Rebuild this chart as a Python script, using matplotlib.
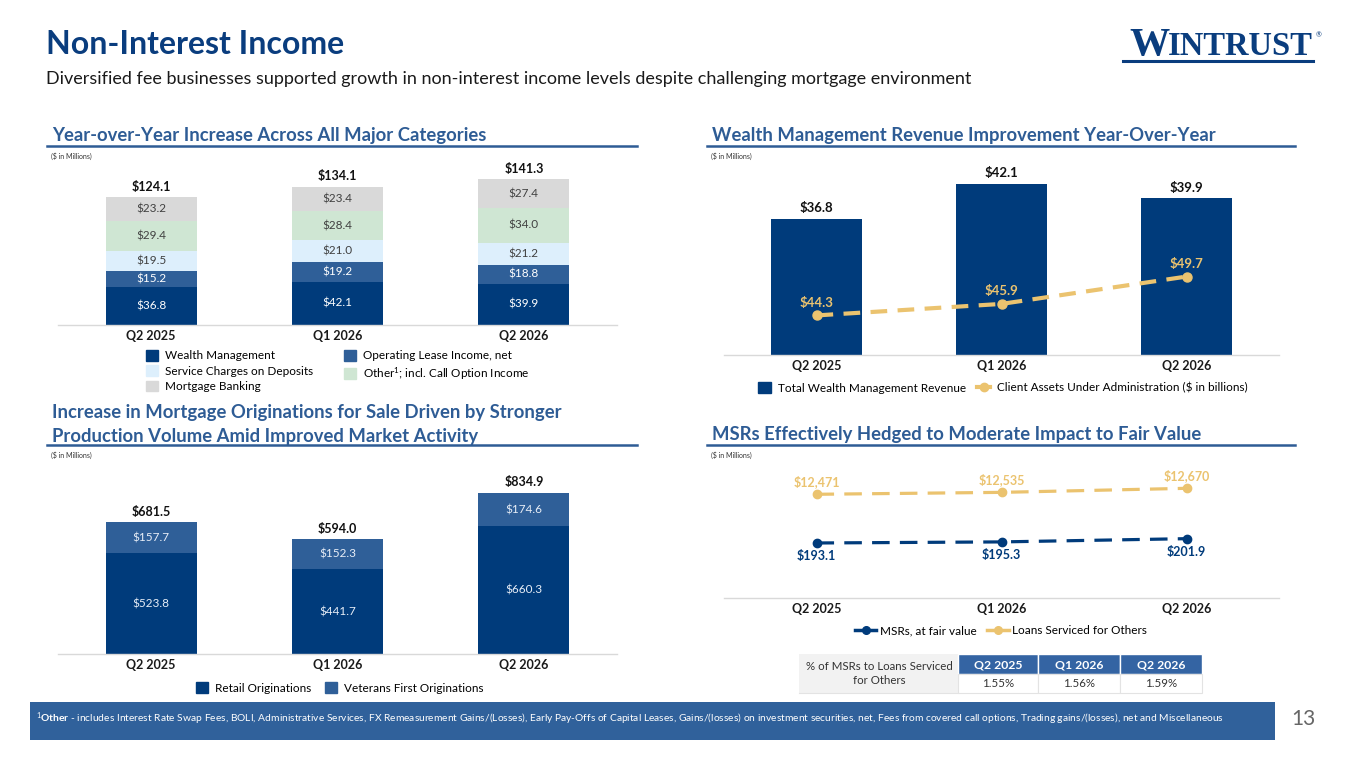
import matplotlib
matplotlib.use('Agg')
import matplotlib.pyplot as plt
from matplotlib.patches import Patch, Rectangle
from matplotlib.lines import Line2D
import numpy as np

# ---------------- data ----------------
quarters = ['Q2 2025', 'Q1 2026', 'Q2 2026']

nii_wealth = [36.8, 42.1, 39.9]
nii_lease = [15.2, 19.2, 18.8]
nii_service = [19.5, 21.0, 21.2]
nii_other = [29.4, 28.4, 34.0]
nii_mortgage = [23.2, 23.4, 27.4]
nii_total = [124.1, 134.1, 141.3]

wm_revenue = [36.8, 42.1, 39.9]
client_assets = [44.3, 45.9, 49.7]

orig_retail = [523.8, 441.7, 660.3]
orig_veterans = [157.7, 152.3, 174.6]
orig_total = [681.5, 594.0, 834.9]

msr_fair_value = [193.1, 195.3, 201.9]
loans_serviced = [12471, 12535, 12670]
msr_pct = ['1.55%', '1.56%', '1.59%']

footnote = ("$^{1}$$\\mathbf{Other}$ - includes Interest Rate Swap Fees, BOLI, Administrative Services, "
            "FX Remeasurement Gains/(Losses), Early Pay-Offs of Capital Leases, Gains/(losses) on investment "
            "securities, net, Fees from covered call options, Trading gains/(losses), net and Miscellaneous")

# ---------------- style ----------------
plt.rcParams['font.family'] = ['Lato', 'DejaVu Sans']
plt.rcParams['mathtext.fontset'] = 'custom'
plt.rcParams['mathtext.rm'] = 'Lato'
plt.rcParams['mathtext.bf'] = 'Lato:bold'
plt.rcParams['mathtext.it'] = 'Lato:italic'

NAVY = '#003B7B'
LEASE = '#2F5F98'
SERVICE = '#DDEFFC'
OTHER = '#CFE6D3'
MORT = '#D9D9D9'
GOLD = '#EBC36F'
SECT = '#2E5C95'
TITLE = '#0A3D7E'
FOOT = '#30619B'
DARKTXT = '#404040'

W, H = 1365, 768
fig = plt.figure(figsize=(W / 100, H / 100), dpi=100)


def fx(x):
    return x / W


def fy(y):
    return 1 - y / H


def rect(x0, x1, y0, y1):
    return [x0 / W, 1 - y1 / H, (x1 - x0) / W, (y1 - y0) / H]


def ptext(x, y, s, **kw):
    return fig.text(fx(x), fy(y), s, **kw)


def hline(x0, x1, y, color, lw):
    fig.add_artist(Line2D([fx(x0), fx(x1)], [fy(y), fy(y)], color=color, lw=lw,
                          transform=fig.transFigure))


def style_axes(ax):
    for s in ['top', 'right', 'left']:
        ax.spines[s].set_visible(False)
    ax.spines['bottom'].set_color('#D9D9D9')
    ax.spines['bottom'].set_linewidth(1.0)
    ax.set_yticks([])
    ax.set_xlim(-0.5, 2.5)
    ax.set_xticks(np.arange(len(quarters)))
    ax.set_xticklabels(quarters, fontsize=9, fontweight='bold', color='#1A1A1A')
    ax.tick_params(axis='x', length=0, pad=3.5)
    ax.patch.set_visible(False)


# ---------------- header ----------------
ptext(46, 45, 'Non-Interest Income', fontsize=23, fontweight='bold', color=TITLE, va='center')
ptext(46, 79, 'Diversified fee businesses supported growth in non-interest income levels despite '
      'challenging mortgage environment', fontsize=13, color='#1A1A1A', va='center')

# logo
renderer = fig.canvas.get_renderer()
t_int = ptext(1313, 55, 'INTRUST', family='Liberation Serif', fontweight='bold', fontsize=23.5,
              color=TITLE, ha='right', va='baseline')
bb = t_int.get_window_extent(renderer)
ptext(bb.x0 + 1, 55, 'W', family='Liberation Serif', fontweight='bold', fontsize=29,
      color=TITLE, ha='right', va='baseline')
ptext(1316, 35, '®', fontsize=5, color=TITLE, ha='left', va='center')
hline(1123, 1313, 61, TITLE, 2.2)

# section titles
SECT_FS = 13.3
ptext(52, 141.5, 'Year-over-Year Increase Across All Major Categories', fontsize=SECT_FS,
      fontweight='bold', color=SECT, va='baseline')
hline(47, 637, 145.5, SECT, 1.8)
ptext(712, 141.5, 'Wealth Management Revenue Improvement Year-Over-Year', fontsize=SECT_FS,
      fontweight='bold', color=SECT, va='baseline')
hline(707, 1295, 145.5, SECT, 1.8)
ptext(52, 418, 'Increase in Mortgage Originations for Sale Driven by Stronger', fontsize=SECT_FS,
      fontweight='bold', color=SECT, va='baseline')
ptext(52, 442, 'Production Volume Amid Improved Market Activity', fontsize=SECT_FS,
      fontweight='bold', color=SECT, va='baseline')
hline(47, 637, 444.5, SECT, 1.8)
ptext(712, 440, 'MSRs Effectively Hedged to Moderate Impact to Fair Value', fontsize=SECT_FS,
      fontweight='bold', color=SECT, va='baseline')
hline(707, 1295, 445, SECT, 1.8)

for (xx, yy) in [(51, 156), (711, 156), (51, 455), (711, 455)]:
    ptext(xx, yy, '($ in Millions)', fontsize=5, color='#333333', va='center')

x = np.arange(len(quarters))

# ---------------- top-left: stacked bars ----------------
ax1 = fig.add_axes(rect(58, 617, 160, 325))
style_axes(ax1)
ax1.set_ylim(0, 160.2)
stack = [
    (nii_wealth, NAVY, 'Wealth Management', 'white'),
    (nii_lease, LEASE, 'Operating Lease Income, net', 'white'),
    (nii_service, SERVICE, 'Service Charges on Deposits', DARKTXT),
    (nii_other, OTHER, 'Other$^{1}$; incl. Call Option Income', DARKTXT),
    (nii_mortgage, MORT, 'Mortgage Banking', DARKTXT),
]
bottom = np.zeros(len(quarters))
handles = {}
for vals, col, lab, tc in stack:
    bars = ax1.bar(x, vals, 0.49, bottom=bottom, color=col, label=lab)
    ax1.bar_label(bars, labels=[f'${v:.1f}' for v in vals], label_type='center',
                  color=tc, fontsize=8.5)
    handles[lab] = Patch(color=col)
    bottom += np.array(vals)
for xi, tot in zip(x, nii_total):
    ax1.annotate(f'${tot:.1f}', (xi, tot), xytext=(0, 7.5), textcoords='offset points',
                 ha='center', va='center', fontsize=9, fontweight='bold', color='#111111')
order = ['Wealth Management', 'Service Charges on Deposits', 'Mortgage Banking',
         'Operating Lease Income, net', 'Other$^{1}$; incl. Call Option Income']
fig.legend([handles[k] for k in order], order, loc='upper left',
           bbox_to_anchor=(fx(146), fy(350)), ncol=2, frameon=False, fontsize=8.5,
           handlelength=1.0, handleheight=1.0, handletextpad=0.6, columnspacing=2.6,
           labelspacing=0.35, borderpad=0, borderaxespad=0)

# ---------------- top-right: wealth management ----------------
ax2 = fig.add_axes(rect(724, 1279, 160, 355))
style_axes(ax2)
ax2.set_ylim(16.2, 45.7)
b2 = ax2.bar(x, wm_revenue, 0.49, color=NAVY)
for xi, v in zip(x, wm_revenue):
    ax2.annotate(f'${v:.1f}', (xi, v), xytext=(0, 7.7), textcoords='offset points',
                 ha='center', va='center', fontsize=9.5, fontweight='bold', color='#111111')
ax2b = ax2.twinx()
ax2b.set_ylim(38.8, 65.9)
for s in ax2b.spines.values():
    s.set_visible(False)
ax2b.set_yticks([])
ax2b.plot(x, client_assets, color=GOLD, lw=3, dashes=(4, 2.5), marker='o', ms=6.5,
          solid_capstyle='butt')
for xi, v in zip(x, client_assets):
    ax2b.annotate(f'${v:.1f}', (xi, v), xytext=(0, 9), textcoords='offset points',
                  ha='center', va='center', fontsize=9.5, fontweight='bold', color=GOLD)
fig.legend([Patch(color=NAVY), Line2D([], [], color=GOLD, lw=3, marker='o', ms=6)],
           ['Total Wealth Management Revenue', 'Client Assets Under Administration ($ in billions)'],
           loc='center', bbox_to_anchor=(fx(1003), fy(388)), ncol=2, frameon=False,
           fontsize=8.5, handlelength=1.1, handleheight=1.0, handletextpad=0.6,
           columnspacing=0.9, borderpad=0, borderaxespad=0)

# ---------------- bottom-left: originations ----------------
ax3 = fig.add_axes(rect(58, 617, 470, 654.3))
style_axes(ax3)
ax3.set_ylim(0, 952)
b_ret = ax3.bar(x, orig_retail, 0.49, color=NAVY)
b_vet = ax3.bar(x, orig_veterans, 0.49, bottom=orig_retail, color=LEASE)
ax3.bar_label(b_ret, labels=[f'${v:.1f}' for v in orig_retail], label_type='center',
              color='#E8EEF7', fontsize=8.5)
ax3.bar_label(b_vet, labels=[f'${v:.1f}' for v in orig_veterans], label_type='center',
              color='#E8EEF7', fontsize=8.5)
for xi, tot in zip(x, orig_total):
    ax3.annotate(f'${tot:.1f}', (xi, tot), xytext=(0, 7.7), textcoords='offset points',
                 ha='center', va='center', fontsize=9, fontweight='bold', color='#111111')
fig.legend([Patch(color=NAVY), Patch(color=LEASE)],
           ['Retail Originations', 'Veterans First Originations'],
           loc='center', bbox_to_anchor=(fx(340), fy(688)), ncol=2, frameon=False,
           fontsize=8.5, handlelength=1.0, handleheight=1.0, handletextpad=0.6,
           columnspacing=1.2, borderpad=0, borderaxespad=0)

# ---------------- bottom-right: MSRs ----------------
ax4 = fig.add_axes(rect(724, 1279, 465, 598))
style_axes(ax4)
ax4.set_ylim(81, 352)
ax4.plot(x, msr_fair_value, color=NAVY, lw=2.3, dashes=(5.5, 3.2), marker='o', ms=6)
for xi, v in zip(x, msr_fair_value):
    ax4.annotate(f'${v:.1f}', (xi, v), xytext=(0, -9.5), textcoords='offset points',
                 ha='center', va='center', fontsize=9, fontweight='bold', color=NAVY)
ax4b = ax4.twinx()
ax4b.set_ylim(9014, 13447)
for s in ax4b.spines.values():
    s.set_visible(False)
ax4b.set_yticks([])
ax4b.plot(x, loans_serviced, color=GOLD, lw=2.3, dashes=(5.5, 3.2), marker='o', ms=6)
for xi, v in zip(x, loans_serviced):
    ax4b.annotate(f'${v:,.0f}', (xi, v), xytext=(0, 9.3), textcoords='offset points',
                  ha='center', va='center', fontsize=9, fontweight='bold', color=GOLD)
fig.legend([Line2D([], [], color=NAVY, lw=2.5, marker='o', ms=5.5),
            Line2D([], [], color=GOLD, lw=2.5, marker='o', ms=5.5)],
           ['MSRs, at fair value', 'Loans Serviced for Others'],
           loc='center', bbox_to_anchor=(fx(1001), fy(631)), ncol=2, frameon=False,
           fontsize=8.5, handlelength=1.8, handletextpad=0.3, columnspacing=0.9,
           borderpad=0, borderaxespad=0)

# table
def frect(x0, y0, x1, y1, **kw):
    fig.add_artist(Rectangle((fx(x0), fy(y1)), (x1 - x0) / W, (y1 - y0) / H,
                             transform=fig.transFigure, **kw))

TBL_HEAD = '#3464A3'
col_edges = [958, 1038, 1120, 1202]
frect(799, 654, 958, 693, facecolor='#F2F2F2', edgecolor='none')
ptext(879, 666.5, '% of MSRs to Loans Serviced', fontsize=8.3, color='#333333', ha='center', va='center')
ptext(879, 680, 'for Others', fontsize=8.3, color='#333333', ha='center', va='center')
for i, q in enumerate(quarters):
    x0, x1 = col_edges[i], col_edges[i + 1]
    frect(x0, 654, x1, 673.5, facecolor=TBL_HEAD, edgecolor='white', lw=1)
    frect(x0, 673.5, x1, 693, facecolor='white', edgecolor='#E3E3E3', lw=0.8)
    ptext((x0 + x1) / 2, 664.5, q, fontsize=8.8, fontweight='bold', color='white',
          ha='center', va='center')
    ptext((x0 + x1) / 2, 683.5, msr_pct[i], fontsize=8.3, color='#333333', ha='center', va='center')
hline(799, 958, 693, '#E3E3E3', 0.8)

# ---------------- footer ----------------
frect(30, 701.5, 1275, 740, facecolor=FOOT, edgecolor='none')
ptext(36, 719, footnote, fontsize=7.4, color='white', ha='left', va='center')
ptext(1303, 719, '13', fontsize=15, color='#666666', ha='center', va='center')

fig.savefig('out.png', dpi=100, facecolor='white')
